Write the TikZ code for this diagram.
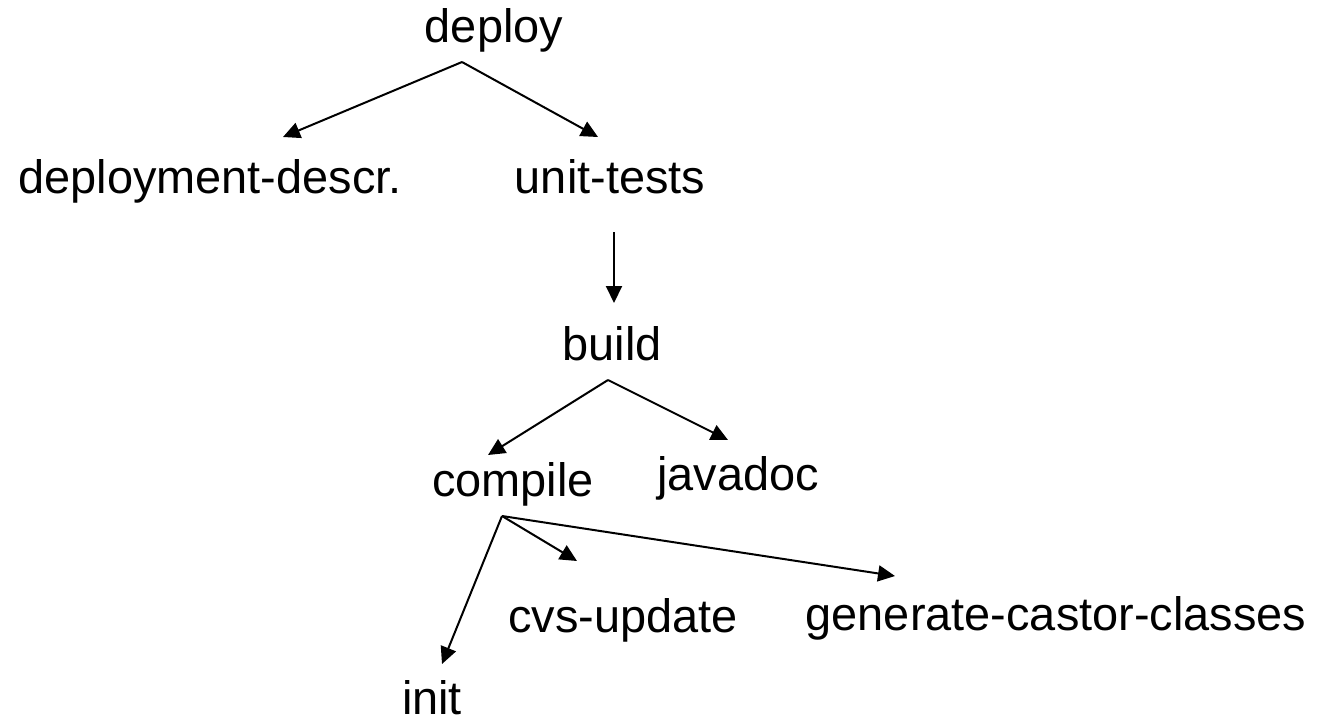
\documentclass[tikz,border=0pt]{standalone}
\usepackage{fontspec}
\setmainfont{Liberation Sans}
\usetikzlibrary{arrows.meta}

\begin{document}
\begin{tikzpicture}[x=0.02cm, y=-0.02cm,
  task/.style={anchor=base, inner sep=0pt, font=\fontsize{26.7}{32}\selectfont},
  dep/.style={-{Triangle[length=0.34cm, width=0.32cm]}, line width=0.04cm}]

  \useasboundingbox (0,0) rectangle (1324,724);

  % targets
  \node[task] (deploy)   at (494,42)   {deploy};
  \node[task] (ddescr)   at (210,193)  {deployment-descr.};
  \node[task] (unittest) at (610,193)  {unit-tests};
  \node[task] (build)    at (612,360)  {build};
  \node[task] (compile)  at (513,496)  {compile};
  \node[task] (javadoc)  at (738,490)  {javadoc};
  \node[task] (init)     at (432,714)  {init};
  \node[task] (cvsup)    at (623,632)  {cvs-update};
  \node[task] (castor)   at (1056,630) {generate-castor-classes};

  % fork points below a target, arrow tips above one
  \coordinate (deploy-fork)  at (462,62);
  \coordinate (unittest-out) at (614,232);
  \coordinate (build-fork)   at (608,380);
  \coordinate (compile-fork) at (502,516);

  \coordinate (ddescr-in)   at (283,137);
  \coordinate (unittest-in) at (598,137);
  \coordinate (build-in)    at (614,303);
  \coordinate (compile-in)  at (488,455);
  \coordinate (javadoc-in)  at (728,440);
  \coordinate (init-in)     at (442,664);
  \coordinate (cvsup-in)    at (577,561);
  \coordinate (castor-in)   at (895,576);

  % dependencies
  \draw[dep] (deploy-fork) -- (ddescr-in);
  \draw[dep] (deploy-fork) -- (unittest-in);
  \draw[dep] (unittest-out) -- (build-in);
  \draw[dep] (build-fork) -- (compile-in);
  \draw[dep] (build-fork) -- (javadoc-in);
  \draw[dep] (compile-fork) -- (init-in);
  \draw[dep] (compile-fork) -- (cvsup-in);
  \draw[dep] (compile-fork) -- (castor-in);

\end{tikzpicture}
\end{document}
